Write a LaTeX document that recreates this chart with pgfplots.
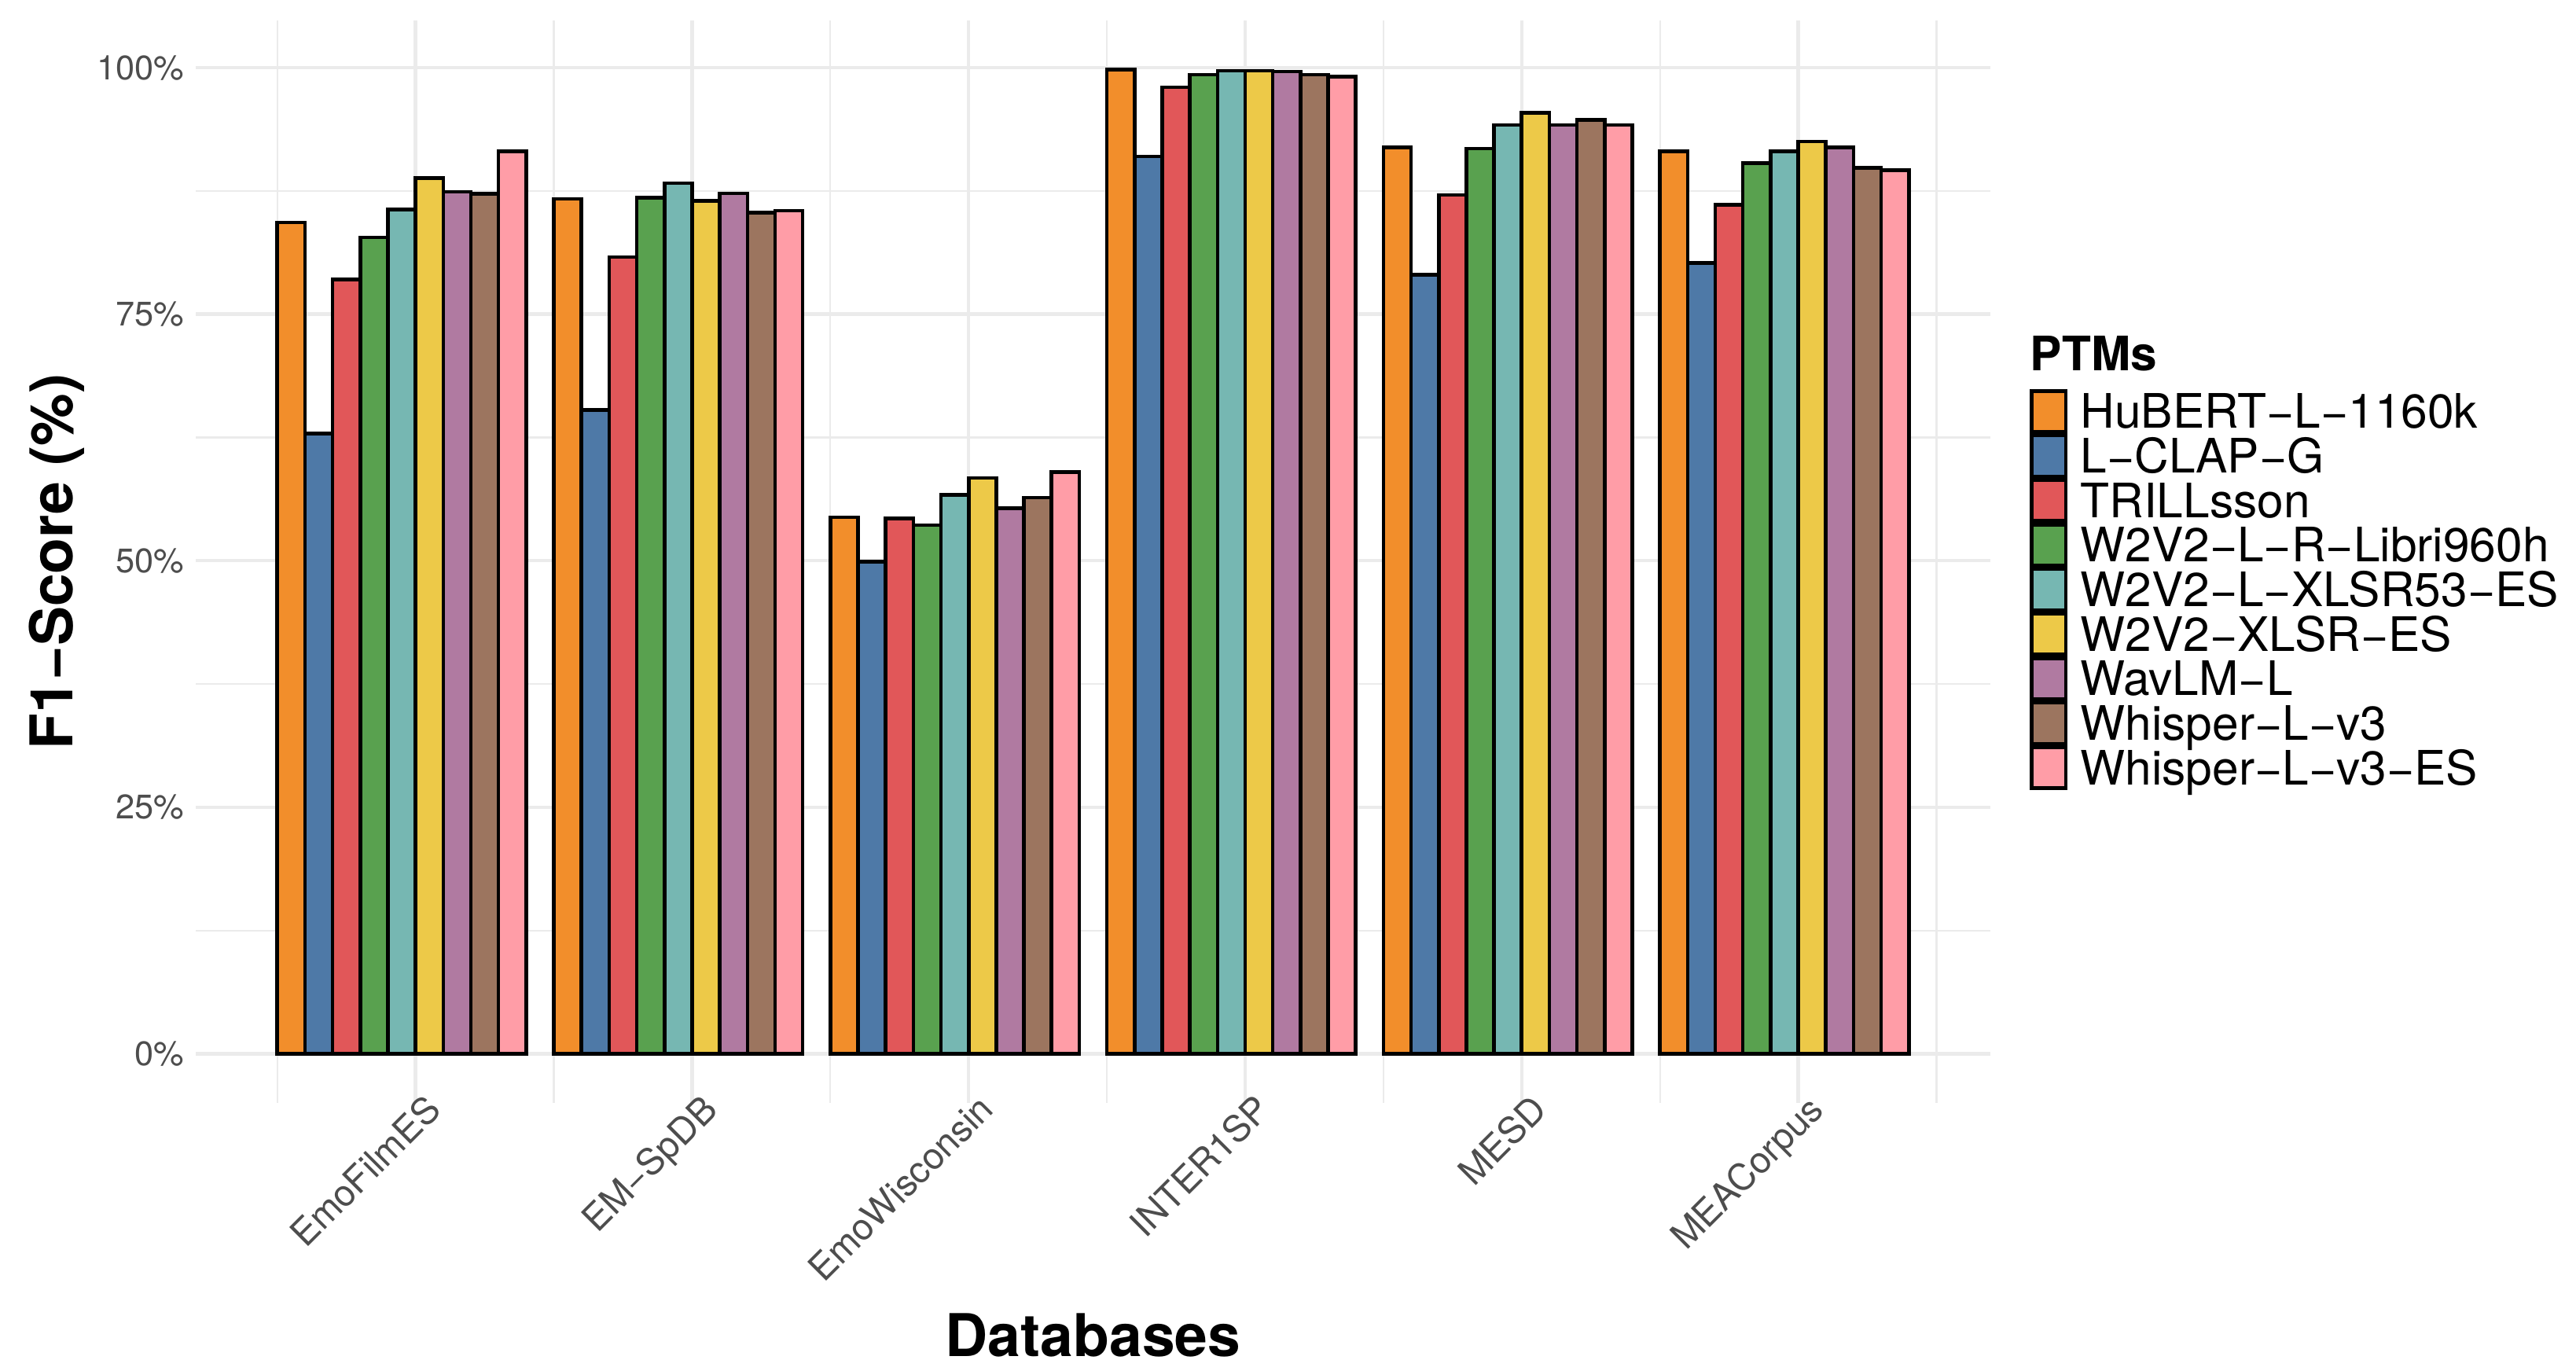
\documentclass[border=0pt]{standalone}
\usepackage{fontspec}
\setmainfont{TeX Gyre Heros}
\usepackage{pgfplots}
\pgfplotsset{compat=1.18}

\definecolor{cHubert}{HTML}{F28E2B}
\definecolor{cClap}{HTML}{4E79A7}
\definecolor{cTrill}{HTML}{E15759}
\definecolor{cLibri}{HTML}{59A14F}
\definecolor{cXlsrL}{HTML}{76B7B2}
\definecolor{cXlsr}{HTML}{EDC948}
\definecolor{cWavlm}{HTML}{B07AA1}
\definecolor{cWhisper}{HTML}{9C755F}
\definecolor{cWhisperES}{HTML}{FF9DA7}
\definecolor{gridgray}{HTML}{EBEBEB}
\definecolor{tickgray}{HTML}{4D4D4D}

\pgfplotsset{
  ptm/.style 2 args={
    ybar, bar width=0.1, bar shift=#2,
    fill=#1, draw=black, line width=1.1pt,
    legend image code/.code={
      \draw[fill=#1, draw=black, line width=1.1pt] (0pt,-6.25pt) rectangle (10.5pt,6.25pt);
    },
  },
}

\begin{document}
\begin{tikzpicture}
\useasboundingbox (-59.76pt,-81.6pt) rectangle (726.72pt,336.72pt);
\begin{axis}[
  scale only axis, clip=false,
  width=547.92pt, height=330.48pt,
  xmin=0.255, xmax=6.745,
  ymin=-4.99, ymax=104.79,
  axis line style={draw=none},
  major tick length=0pt, minor tick length=0pt,
  xtick={1.05,2.05,3.05,4.05,5.05,6.05},
  minor xtick={0.55,1.55,2.55,3.55,4.55,5.55,6.55},
  xticklabels={EmoFilmES,EM−SpDB,EmoWisconsin,INTER1SP,MESD,MEACorpus},
  ytick={0,25,50,75,100},
  minor ytick={12.5,37.5,62.5,87.5},
  yticklabels={0\%,25\%,50\%,75\%,100\%},
  grid=both,
  major grid style={draw=gridgray, line width=1.07pt},
  minor grid style={draw=gridgray, line width=0.53pt},
  tick label style={font=\fontsize{10.4}{12}\selectfont, text=tickgray, inner sep=0pt},
  yticklabel style={anchor=east, xshift=-3.3pt},
  xticklabel style={font=\fontsize{11.2}{13}\selectfont, xshift=2.4pt, yshift=3.4pt, rotate=45, anchor=north east},
  xlabel={Databases},
  ylabel={F1−Score (\%)},
  every axis x label/.style={at={(axis description cs:0.5,-0.23384)}, anchor=base,
    font=\bfseries\fontsize{18}{21}\selectfont, inner sep=0pt},
  every axis y label/.style={at={(axis description cs:-0.06874,0.5)}, rotate=90, anchor=base,
    font=\bfseries\fontsize{18}{21}\selectfont, inner sep=0pt},
  legend cell align=left,
  legend style={at={(1.02189,0.65940)}, anchor=north west, draw=none, fill=none,
    inner sep=0pt, outer sep=0pt, column sep=3.9pt, row sep=0pt,
    font=\fontsize{14.5}{17}\selectfont,
    nodes={inner sep=0pt, text height=10.3pt, text depth=0pt}},
]
% x = database (1 EmoFilmES ... 6 MEACorpus), y = F1 in %
\addplot[ptm={cHubert}{-0.4}] coordinates {(1,84.3) (2,86.7) (3,54.4) (4,99.8) (5,91.9) (6,91.5)};
\addlegendentry{HuBERT−L−1160k}
\addplot[ptm={cClap}{-0.3}] coordinates {(1,62.9) (2,65.3) (3,49.9) (4,91.0) (5,79.0) (6,80.2)};
\addlegendentry{L−CLAP−G}
\addplot[ptm={cTrill}{-0.2}] coordinates {(1,78.5) (2,80.8) (3,54.3) (4,98.0) (5,87.1) (6,86.1)};
\addlegendentry{TRILLsson}
\addplot[ptm={cLibri}{-0.1}] coordinates {(1,82.8) (2,86.8) (3,53.6) (4,99.3) (5,91.8) (6,90.3)};
\addlegendentry{W2V2−L−R−Libri960h}
\addplot[ptm={cXlsrL}{0}] coordinates {(1,85.6) (2,88.3) (3,56.7) (4,99.7) (5,94.2) (6,91.5)};
\addlegendentry{W2V2−L−XLSR53−ES}
\addplot[ptm={cXlsr}{0.1}] coordinates {(1,88.8) (2,86.5) (3,58.4) (4,99.7) (5,95.4) (6,92.5)};
\addlegendentry{W2V2−XLSR−ES}
\addplot[ptm={cWavlm}{0.2}] coordinates {(1,87.4) (2,87.25) (3,55.3) (4,99.6) (5,94.2) (6,91.9)};
\addlegendentry{WavLM−L}
\addplot[ptm={cWhisper}{0.3}] coordinates {(1,87.2) (2,85.3) (3,56.4) (4,99.3) (5,94.7) (6,89.85)};
\addlegendentry{Whisper−L−v3}
\addplot[ptm={cWhisperES}{0.4}] coordinates {(1,91.5) (2,85.5) (3,59.0) (4,99.1) (5,94.2) (6,89.6)};
\addlegendentry{Whisper−L−v3−ES}
\node[anchor=base west, inner sep=0pt, font=\bfseries\fontsize{14.5}{17}\selectfont]
  at (axis description cs:1.02189,0.67611) {PTMs};
\end{axis}
\end{tikzpicture}
\end{document}
